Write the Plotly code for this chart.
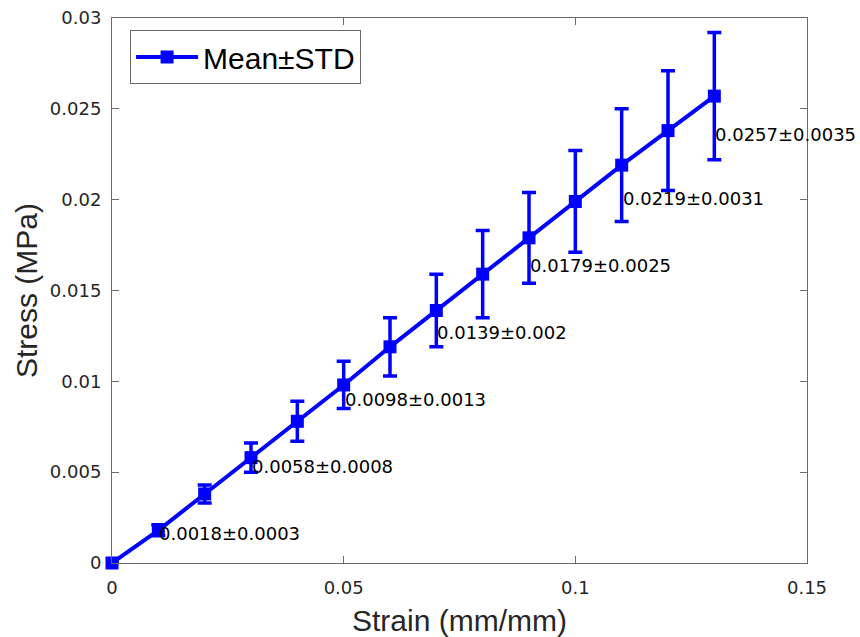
import plotly.graph_objects as go

strain = [0, 0.01, 0.02, 0.03, 0.04, 0.05, 0.06, 0.07, 0.08, 0.09, 0.10, 0.11, 0.12, 0.13]
stress_mean = [0, 0.0018, 0.0038, 0.0058, 0.0078, 0.0098, 0.0119, 0.0139, 0.0159,
               0.0179, 0.0199, 0.0219, 0.0238, 0.0257]
stress_std = [0, 0.0003, 0.0005, 0.0008, 0.0011, 0.0013, 0.0016, 0.0020, 0.0024,
              0.0025, 0.0028, 0.0031, 0.0033, 0.0035]

label_x = [0.01, 0.03, 0.05, 0.07, 0.09, 0.11, 0.13]
label_mean = [0.0018, 0.0058, 0.0098, 0.0139, 0.0179, 0.0219, 0.0257]
label_std = [0.0003, 0.0008, 0.0013, 0.002, 0.0025, 0.0031, 0.0035]
label_text = ["0.0018±0.0003", "0.0058±0.0008", "0.0098±0.0013", "0.0139±0.002",
              "0.0179±0.0025", "0.0219±0.0031", "0.0257±0.0035"]

x_ticks = [0, 0.05, 0.1, 0.15]
x_ticktext = ["0", "0.05", "0.1", "0.15"]
y_ticks = [0, 0.005, 0.01, 0.015, 0.02, 0.025, 0.03]
y_ticktext = ["0", "0.005", "0.01", "0.015", "0.02", "0.025", "0.03"]

BLUE = "#0000FF"
AXC = "#6a6a6a"
TXT = "#262626"

fig = go.Figure()
fig.add_trace(go.Scatter(
    x=strain, y=stress_mean, mode="lines+markers", name="Mean±STD",
    line=dict(color=BLUE, width=4),
    marker=dict(symbol="square", size=13, color=BLUE),
    error_y=dict(type="data", array=stress_std, visible=True, color=BLUE,
                 thickness=3.5, width=7),
    cliponaxis=False,
))

for lx, lm, ls, lt in zip(label_x, label_mean, label_std, label_text):
    fig.add_annotation(x=lx, y=lm - 0.6 * ls, text=lt, showarrow=False,
                       xanchor="left", yanchor="middle", xshift=-1,
                       font=dict(family="DejaVu Sans", size=18, color="#000000"))

fig.update_layout(
    width=860, height=637,
    margin=dict(l=112, r=53, t=18, b=74),
    paper_bgcolor="white", plot_bgcolor="white",
    showlegend=True,
    legend=dict(x=0.026, y=0.978, xanchor="left", yanchor="top",
                bgcolor="white", bordercolor=AXC, borderwidth=1,
                font=dict(family="Liberation Sans, Arial", size=30, color="#000000"),
                itemwidth=62, tracegroupgap=0),
    font=dict(family="DejaVu Sans", color=TXT),
)

fig.update_xaxes(
    range=[0, 0.15], tickvals=x_ticks, ticktext=x_ticktext, automargin=False,
    showgrid=False, zeroline=False, showline=True, linecolor=AXC, linewidth=1,
    mirror="ticks", ticks="inside", ticklen=7, tickcolor=AXC,
    tickfont=dict(family="DejaVu Sans", size=18, color=TXT),
    ticklabelstandoff=8,
    title=dict(text="Strain (mm/mm)", standoff=14,
               font=dict(family="Liberation Sans, Arial", size=30, color=TXT)),
)
fig.update_yaxes(
    range=[0, 0.03], tickvals=y_ticks, ticktext=y_ticktext, automargin=False,
    showgrid=False, zeroline=False, showline=True, linecolor=AXC, linewidth=1,
    mirror="ticks", ticks="inside", ticklen=7, tickcolor=AXC,
    tickfont=dict(family="DejaVu Sans", size=18, color=TXT),
    ticklabelstandoff=6,
    title=dict(text="Stress (MPa)", standoff=3,
               font=dict(family="Liberation Sans, Arial", size=30, color=TXT)),
)

fig.write_html("out.html")
